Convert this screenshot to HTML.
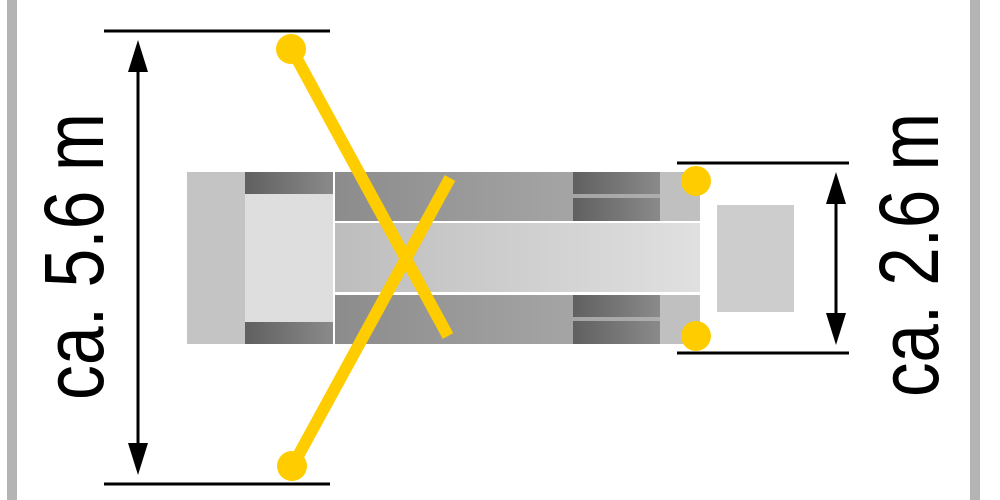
<!DOCTYPE html>
<html><head><style>html,body{margin:0;padding:0;background:#fff}svg{display:block}</style></head>
<body>
<svg width="1000" height="500" viewBox="0 0 1000 500" xmlns="http://www.w3.org/2000/svg">
<defs>
<linearGradient id="g1" x1="0" x2="1"><stop offset="0" stop-color="#8c8c8c"/><stop offset="1" stop-color="#b2b2b2"/></linearGradient>
<linearGradient id="g2" x1="0" x2="1"><stop offset="0" stop-color="#bdbdbd"/><stop offset="1" stop-color="#e0e0e0"/></linearGradient>
<linearGradient id="g3" x1="0" x2="1"><stop offset="0" stop-color="#606060"/><stop offset="1" stop-color="#8a8a8a"/></linearGradient>
</defs>
<rect x="7" y="0" width="10" height="500" fill="#b4b4b4"/>
<rect x="970" y="0" width="10" height="500" fill="#b4b4b4"/>
<!-- vehicle -->
<rect x="187" y="172" width="146" height="172" fill="#c4c4c4"/>
<rect x="245" y="172" width="88" height="172" fill="#dedede"/>
<rect x="245" y="172" width="88" height="22" fill="url(#g3)"/>
<rect x="245" y="322" width="88" height="22" fill="url(#g3)"/>
<rect x="335" y="172" width="365" height="49" fill="url(#g1)"/>
<rect x="335" y="295" width="365" height="49" fill="url(#g1)"/>
<rect x="660" y="172" width="40" height="49" fill="#c0c0c0"/>
<rect x="660" y="295" width="40" height="49" fill="#c0c0c0"/>
<rect x="335" y="223" width="365" height="69" fill="url(#g2)"/>
<rect x="573" y="172" width="87" height="22" fill="url(#g3)"/>
<rect x="573" y="198" width="87" height="23" fill="url(#g3)"/>
<rect x="573" y="295" width="87" height="22" fill="url(#g3)"/>
<rect x="573" y="321" width="87" height="23" fill="url(#g3)"/>
<rect x="717" y="205" width="77" height="107" fill="#cdcdcd"/>
<!-- dimension lines -->
<g stroke="#000" stroke-width="3">
<line x1="104" y1="31" x2="330" y2="31"/>
<line x1="104" y1="484" x2="330" y2="484"/>
<line x1="138" y1="65" x2="138" y2="450"/>
<line x1="677" y1="163" x2="849" y2="163"/>
<line x1="677" y1="353" x2="849" y2="353"/>
<line x1="836" y1="195" x2="836" y2="320"/>
</g>
<g fill="#000">
<polygon points="138,40 128,72 148,72"/>
<polygon points="138,475 128,443 148,443"/>
<polygon points="836,172 826,204 846,204"/>
<polygon points="836,345 826,313 846,313"/>
</g>
<!-- yellow -->
<g stroke="#ffcc00" stroke-width="12">
<line x1="291" y1="48" x2="448" y2="336"/>
<line x1="292" y1="467" x2="450" y2="178"/>
</g>
<g fill="#ffcc00">
<circle cx="291" cy="49" r="15"/>
<circle cx="292" cy="466" r="15"/>
<circle cx="696" cy="181" r="15"/>
<circle cx="696" cy="336" r="15"/>
</g>
<g font-family="'Liberation Sans', sans-serif" font-size="84" fill="#000">
<text transform="translate(103,400) rotate(-90)" textLength="287" lengthAdjust="spacingAndGlyphs">ca. 5.6 m</text>
<text transform="translate(938,397) rotate(-90)" textLength="284" lengthAdjust="spacingAndGlyphs">ca. 2.6 m</text>
</g>
</svg>
</body></html>
